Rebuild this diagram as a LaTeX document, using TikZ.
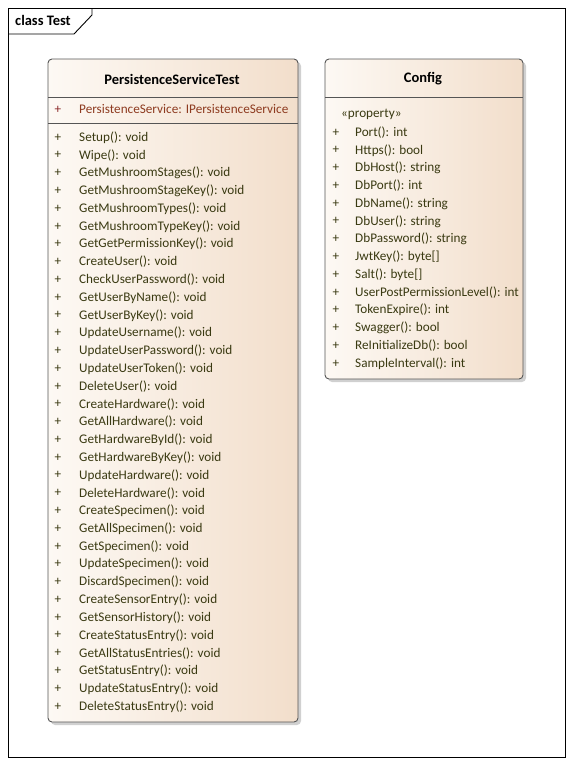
\documentclass[tikz,border=0pt]{standalone}
\usepackage{fontspec}
\setmainfont{Carlito}
\usetikzlibrary{shadings}
\definecolor{fillL}{HTML}{FDF9F4}
\definecolor{fillR}{HTML}{F2DECB}
\definecolor{attrcol}{HTML}{8E3B20}
\definecolor{attrplus}{HTML}{8B2A2A}
\definecolor{opcol}{HTML}{3A3A12}
\definecolor{edgecol}{HTML}{555555}
\tikzset{
  classbox/.style={draw=edgecol, line width=0.9pt, rounded corners=4pt, left color=fillL, right color=fillR},
  shadowbox/.style={fill=black!30, rounded corners=4pt, draw=none},
  sep/.style={draw=edgecol, line width=0.8pt},
  title/.style={font=\fontsize{14.5}{16}\selectfont\bfseries, text=black, inner sep=0pt},
  row/.style={font=\fontsize{13.2}{15}\selectfont, text=opcol, anchor=west, inner sep=0pt},
  plus/.style={font=\fontsize{13.2}{15}\selectfont, text=opcol, inner sep=0pt},
  arow/.style={font=\fontsize{13.2}{15}\selectfont, text=attrcol, anchor=west, inner sep=0pt},
  aplus/.style={font=\fontsize{13.2}{15}\selectfont, text=attrplus, inner sep=0pt},
}
\begin{document}
\begin{tikzpicture}[x=1pt,y=-1pt]
\useasboundingbox (0,0) rectangle (573,766);
\fill[white] (0,0) rectangle (573,766);
% frame
\draw[line width=0.9pt] (8,8) rectangle (565,757);
\draw[line width=0.9pt] (8,34) -- (74,34) -- (92,15) -- (92,8);
\node[font=\fontsize{14.5}{16}\selectfont\bfseries, anchor=west, inner sep=0pt] (frametitle) at (15,20) {class Test};
% class 1
\fill[shadowbox, opacity=0.6] (51,62) rectangle (301,725);
\path[classbox] (48,59) rectangle (298,722);
\draw[sep] (48,97) -- (298,97);
\draw[sep] (48,123) -- (298,123);
\node[title] (t1) at (172,79) {PersistenceServiceTest};
\node[aplus] (ap1) at (58,109.5) {+};
\node[arow] (a1) at (79,109.5) {PersistenceService: IPersistenceService};
\foreach \n [count=\i from 0] in {Setup, Wipe, GetMushroomStages, GetMushroomStageKey, GetMushroomTypes, GetMushroomTypeKey, GetGetPermissionKey, CreateUser, CheckUserPassword, GetUserByName, GetUserByKey, UpdateUsername, UpdateUserPassword, UpdateUserToken, DeleteUser, CreateHardware, GetAllHardware, GetHardwareById, GetHardwareByKey, UpdateHardware, DeleteHardware, CreateSpecimen, GetAllSpecimen, GetSpecimen, UpdateSpecimen, DiscardSpecimen, CreateSensorEntry, GetSensorHistory, CreateStatusEntry, GetAllStatusEntries, GetStatusEntry, UpdateStatusEntry, DeleteStatusEntry}{
  \pgfmathsetmacro{\yy}{137.5+17.78*\i}
  \node[plus] (op\i p) at (58,\yy) {+};
  \node[row] (op\i) at (79,\yy) {\n(): void};
}
% class 2
\fill[shadowbox, opacity=0.6] (328,62) rectangle (526,382);
\path[classbox] (325,59) rectangle (523,379);
\draw[sep] (325,97) -- (523,97);
\node[title] (t2) at (423,79) {Config};
\node[row] (stereo) at (341,114.5) {«property»};
\foreach \n [count=\i from 0] in {Port(): int, Https(): bool, DbHost(): string, DbPort(): int, DbName(): string, DbUser(): string, DbPassword(): string, JwtKey(): byte[], Salt(): byte[], UserPostPermissionLevel(): int, TokenExpire(): int, Swagger(): bool, ReInitializeDb(): bool, SampleInterval(): int}{
  \pgfmathsetmacro{\yy}{132.5+17.77*\i}
  \node[plus] (pr\i p) at (336,\yy) {+};
  \node[row] (pr\i) at (355,\yy) {\n};
}
\end{tikzpicture}
\end{document}
